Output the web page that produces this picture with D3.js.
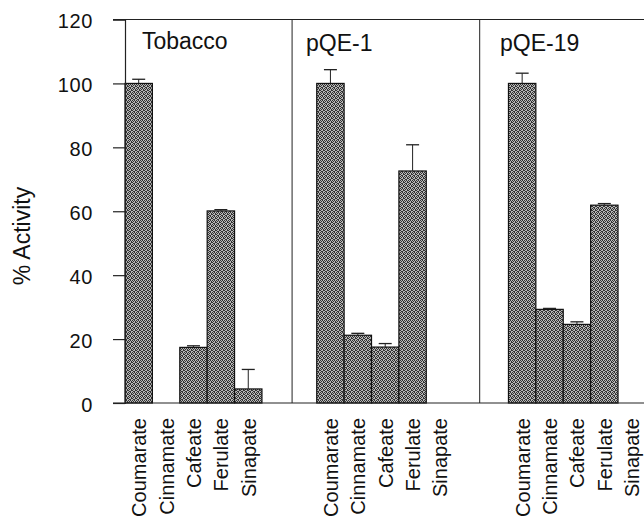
<!DOCTYPE html>
<html>
<head>
<meta charset="utf-8">
<script src="https://cdn.jsdelivr.net/npm/d3@7"></script>
<style>
    body { margin: 0; background: #fff; }
    text { font-family: "Liberation Sans", Arial, Helvetica, sans-serif; fill: #111; }
</style>
</head>
<body>
<svg id="chart" width="644" height="519"></svg>
<script>
// Data
const substrates = ['Coumarate', 'Cinnamate', 'Cafeate', 'Ferulate', 'Sinapate'];
const panels = ['Tobacco', 'pQE-1', 'pQE-19'];
const tobacco = [100, 0, 17.4, 60.1, 4.4];
const tobaccoErr = [101.3, 0, 17.9, 60.5, 10.5];
const pqe1 = [100, 21.2, 17.5, 72.6, 0];
const pqe1Err = [104.3, 21.8, 18.6, 80.8, 0];
const pqe19 = [100, 29.3, 24.6, 61.9, 0];
const pqe19Err = [103.2, 29.6, 25.4, 62.4, 0];
const yTicks = [0, 20, 40, 60, 80, 100, 120];

const values = [tobacco, pqe1, pqe19];
const errTops = [tobaccoErr, pqe1Err, pqe19Err];

const svg = d3.select('#chart');

// Layout: every panel takes 7 slots, bars in the first 5
const slotsPerPanel = 7;
const plotLeft = 125, plotTop = 19.5, plotBottom = 403;
const dividerSlots = [6.1, 12.95];
const labelSlots = [0.62, 6.61, 13.69];

const x = d3.scaleLinear().domain([0, 19]).range([plotLeft, plotLeft + 19 * 27.39]);
const y = d3.scaleLinear().domain([0, 120]).range([plotBottom, plotTop]);
const slotW = x(1) - x(0);

// Flatten into bar records
const bars = [];
panels.forEach((p, pi) => {
    substrates.forEach((s, si) => {
        bars.push({
            panel: p,
            substrate: s,
            slot: pi * slotsPerPanel + si,
            value: values[pi][si],
            err: errTops[pi][si]
        });
    });
});

// Dithered grey fill like the scanned print (4x4 cell, scattered dark pixels)
const ditherDots = [[0, 0], [2, 0], [1, 1], [3, 1], [0, 2], [3, 2], [1, 3], [2, 3]];
const pat = svg.append('defs').append('pattern')
    .attr('id', 'dither')
    .attr('width', 4).attr('height', 4)
    .attr('patternUnits', 'userSpaceOnUse');
pat.append('rect').attr('width', 4).attr('height', 4).attr('fill', '#b8b8b8');
pat.selectAll('rect.dot')
    .data(ditherDots)
    .enter()
    .append('rect')
    .attr('class', 'dot')
    .attr('x', d => d[0]).attr('y', d => d[1])
    .attr('width', 1).attr('height', 1)
    .attr('fill', '#333');

// Frame lines
svg.append('line')
    .attr('x1', plotLeft - 12).attr('x2', 644)
    .attr('y1', plotTop).attr('y2', plotTop)
    .style('stroke', '#222').style('stroke-width', 1.2);

svg.selectAll('line.divider')
    .data(dividerSlots)
    .enter()
    .append('line')
    .attr('class', 'divider')
    .attr('x1', d => x(d)).attr('x2', d => x(d))
    .attr('y1', plotTop).attr('y2', plotBottom)
    .style('stroke', '#222').style('stroke-width', 1);

// Bars
svg.append('g')
    .selectAll('rect')
    .data(bars.filter(d => d.value > 0))
    .enter()
    .append('rect')
    .attr('x', d => x(d.slot))
    .attr('y', d => y(d.value))
    .attr('width', slotW)
    .attr('height', d => y(0) - y(d.value))
    .style('fill', 'url(#dither)')
    .style('stroke', '#111')
    .style('stroke-width', 1.2);

// Error bars (upper only)
const errG = svg.append('g')
    .selectAll('g')
    .data(bars.filter(d => d.err > d.value))
    .enter()
    .append('g');

errG.append('line')
    .attr('x1', d => x(d.slot + 0.5)).attr('x2', d => x(d.slot + 0.5))
    .attr('y1', d => y(d.value)).attr('y2', d => y(d.err))
    .style('stroke', '#222').style('stroke-width', 1);

errG.append('line')
    .attr('x1', d => x(d.slot + 0.5) - 6.5).attr('x2', d => x(d.slot + 0.5) + 6.5)
    .attr('y1', d => y(d.err)).attr('y2', d => y(d.err))
    .style('stroke', '#222').style('stroke-width', 1.3);

// Y axis
const yAxis = d3.axisLeft(y)
    .tickValues(yTicks)
    .tickSize(12)
    .tickPadding(20)
    .tickFormat(d3.format('d'));

const yG = svg.append('g')
    .attr('transform', `translate(${plotLeft}, 0)`)
    .call(yAxis);
yG.select('.domain').style('stroke', '#222').style('stroke-width', 1.2);
yG.selectAll('.tick line').style('stroke', '#222').style('stroke-width', 1.2);
yG.selectAll('.tick text')
    .attr('dy', '0.42em')
    .style('font-size', '20px')
    .style('letter-spacing', '0.6px')
    .style('fill', '#111');

// Baseline
svg.append('line')
    .attr('x1', plotLeft - 12).attr('x2', 644)
    .attr('y1', plotBottom).attr('y2', plotBottom)
    .style('stroke', '#222').style('stroke-width', 1.2);

// Category labels
svg.append('g')
    .selectAll('text')
    .data(bars)
    .enter()
    .append('text')
    .attr('transform', d => `translate(${x(d.slot + 0.5) + 7.5}, ${plotBottom + 15}) rotate(-90)`)
    .attr('text-anchor', 'end')
    .style('font-size', '20px')
    .text(d => d.substrate);

// Panel titles
svg.append('g')
    .selectAll('text')
    .data(panels)
    .enter()
    .append('text')
    .attr('x', (d, i) => x(labelSlots[i]))
    .attr('y', (d, i) => i == 0 ? 49 : 51)
    .style('font-size', '23px')
    .text(d => d);

// Y title
svg.append('text')
    .attr('transform', `translate(29.5, 236) rotate(-90)`)
    .attr('text-anchor', 'middle')
    .style('font-size', '23px')
    .text('% Activity');
</script>
</body>
</html>
